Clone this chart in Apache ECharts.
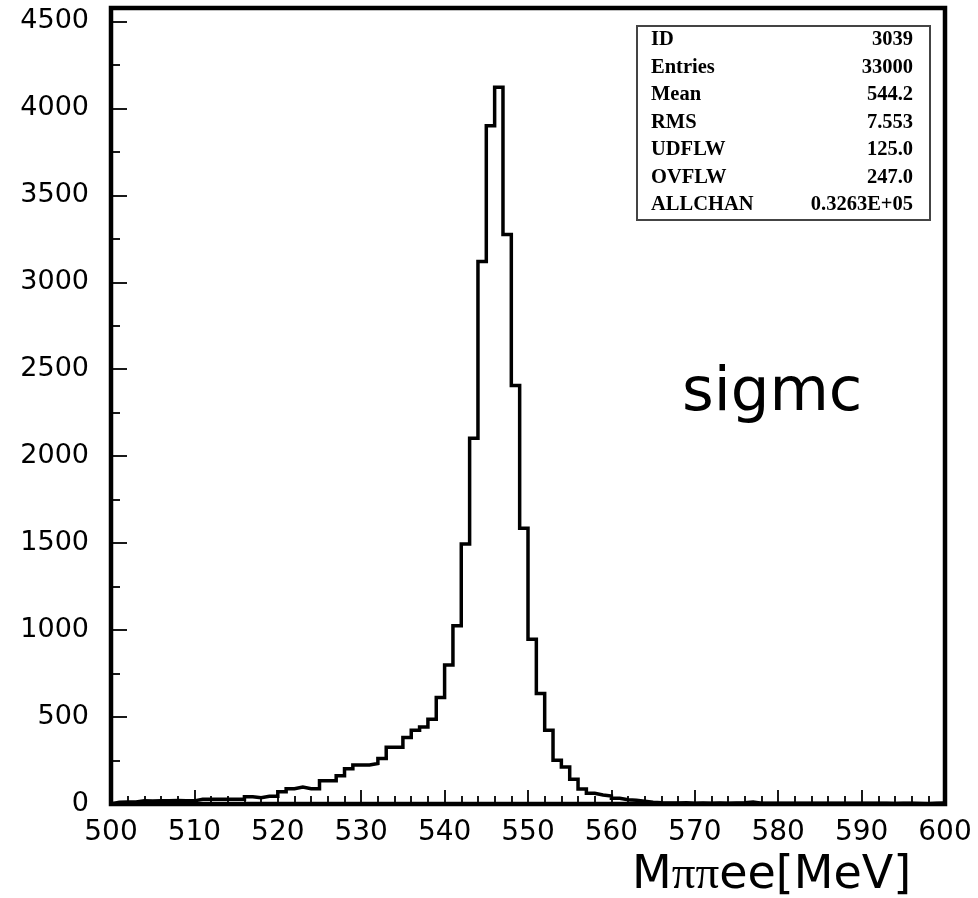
<!DOCTYPE html>
<html>
<head>
<meta charset="utf-8">
<title>sigmc Mππee</title>
<script src="https://cdn.jsdelivr.net/npm/echarts@6.0.0/dist/echarts.min.js"></script>
<style>
  html, body { margin: 0; padding: 0; background: #ffffff; }
  #chart { width: 978px; height: 898px; }
</style>
</head>
<body>
<div id="chart"></div>
<script>
// Histogram: 100 bins of 1 MeV from 500 to 600 MeV
const binStart = 500;
const binWidth = 1;
const counts = [
  10, 12, 12, 18, 17, 19, 18, 20, 19, 18,
  27, 28, 28, 27, 28, 27, 42, 36, 45, 45,
  70, 88, 98, 88, 88, 134, 134, 163, 203, 224,
  224, 233, 262, 327, 327, 382, 424, 443, 488, 612,
  799, 1025, 1495, 2103, 3119, 3900, 4121, 3275, 2407, 1585,
  948, 635, 424, 252, 213, 142, 86, 62, 52, 46,
  33, 24, 22, 16, 10, 7, 6, 6, 7, 5,
  6, 5, 6, 5, 6, 7, 12, 5, 4, 5,
  5, 4, 5, 4, 5, 4, 4, 5, 4, 4,
  5, 4, 4, 3, 4, 4, 3, 1, 4, 5
];

// Axis ticks
const yMajorTicks = [0, 500, 1000, 1500, 2000, 2500, 3000, 3500, 4000, 4500];
const yMinorTicks = [250, 750, 1250, 1750, 2250, 2750, 3250, 3750, 4250];

// Statistics box rows
const statNames = ['ID', 'Entries', 'Mean', 'RMS', 'UDFLW', 'OVFLW', 'ALLCHAN'];
const statValues = ['3039', '33000', '544.2', '7.553', '125.0', '247.0', '0.3263E+05'];

// Step outline points: left edge of each bin, closed down to zero at both ends
const outline = [[binStart, 0]];
counts.forEach((c, i) => outline.push([binStart + i * binWidth, c]));
outline.push([binStart + counts.length * binWidth, counts[counts.length - 1]]);
outline.push([binStart + counts.length * binWidth, 0]);

const chart = echarts.init(document.getElementById('chart'), null, { renderer: 'canvas' });

const labelFont = 'DejaVu Sans';
const statFont = 'bold 20.5px "Liberation Serif"';
const statRowTop = 40;
const statRowStep = 27.5;

const statTexts = [];
statNames.forEach((name, i) => {
  const y = statRowTop + i * statRowStep;
  statTexts.push({
    type: 'text', x: 651, y: y, z: 11,
    style: { text: name, font: statFont, fill: '#000', textAlign: 'left', textVerticalAlign: 'middle' }
  });
  statTexts.push({
    type: 'text', x: 913, y: y, z: 11,
    style: { text: statValues[i], font: statFont, fill: '#000', textAlign: 'right', textVerticalAlign: 'middle' }
  });
});

const yMin = 0, yMax = 4577;

chart.setOption({
  animation: false,
  backgroundColor: '#ffffff',
  grid: {
    left: 111, right: 33, top: 8, bottom: 94,
    show: true, borderColor: '#000', borderWidth: 4.5, backgroundColor: 'transparent'
  },
  xAxis: {
    type: 'value', min: 500, max: 600, interval: 10,
    axisLine: { show: false },
    splitLine: { show: false },
    axisTick: { show: true, inside: true, length: 14, lineStyle: { color: '#000', width: 1.8 } },
    minorTick: { show: true, splitNumber: 5, length: 8, lineStyle: { color: '#000', width: 1.8 } },
    axisLabel: { show: true, margin: 15, color: '#000', fontFamily: labelFont, fontSize: 28,
                 formatter: v => String(v) }
  },
  yAxis: [
    {
      type: 'value', min: yMin, max: yMax, interval: 500,
      axisLine: { show: false },
      splitLine: { show: false },
      axisTick: { show: true, inside: true, length: 16, customValues: yMajorTicks,
                  lineStyle: { color: '#000', width: 1.8 } },
      axisLabel: { show: true, margin: 22, color: '#000', fontFamily: labelFont, fontSize: 27,
                   customValues: yMajorTicks, formatter: v => String(v) }
    },
    {
      type: 'value', min: yMin, max: yMax, position: 'left',
      axisLine: { show: false },
      splitLine: { show: false },
      axisTick: { show: true, inside: true, length: 9, customValues: yMinorTicks,
                  lineStyle: { color: '#000', width: 1.8 } },
      axisLabel: { show: false }
    }
  ],
  series: [{
    type: 'line',
    step: 'end',
    data: outline,
    symbol: 'none',
    clip: true,
    lineStyle: { color: '#000', width: 3.5, join: 'miter' },
    z: 3
  }],
  graphic: [
    {
      type: 'rect', left: 636, top: 25, z: 10,
      shape: { width: 293, height: 194 },
      style: { fill: '#fff', stroke: '#444', lineWidth: 2 }
    },
    { type: 'group', z: 11, children: statTexts },
    {
      type: 'text', x: 682, y: 425, z: 10,
      style: { text: 'sigmc', font: '61px "DejaVu Sans"', fill: '#000', textVerticalAlign: 'bottom' }
    },
    {
      type: 'text', x: 632, y: 876, z: 10,
      style: {
        text: '{a|M}{p|ππ}{a|ee[MeV]}',
        textVerticalAlign: 'middle',
        rich: {
          a: { font: '46px "DejaVu Sans"', fill: '#000', color: '#000' },
          p: { font: '47px "Liberation Serif"', fill: '#000', color: '#000' }
        }
      }
    }
  ]
});
</script>
</body>
</html>
